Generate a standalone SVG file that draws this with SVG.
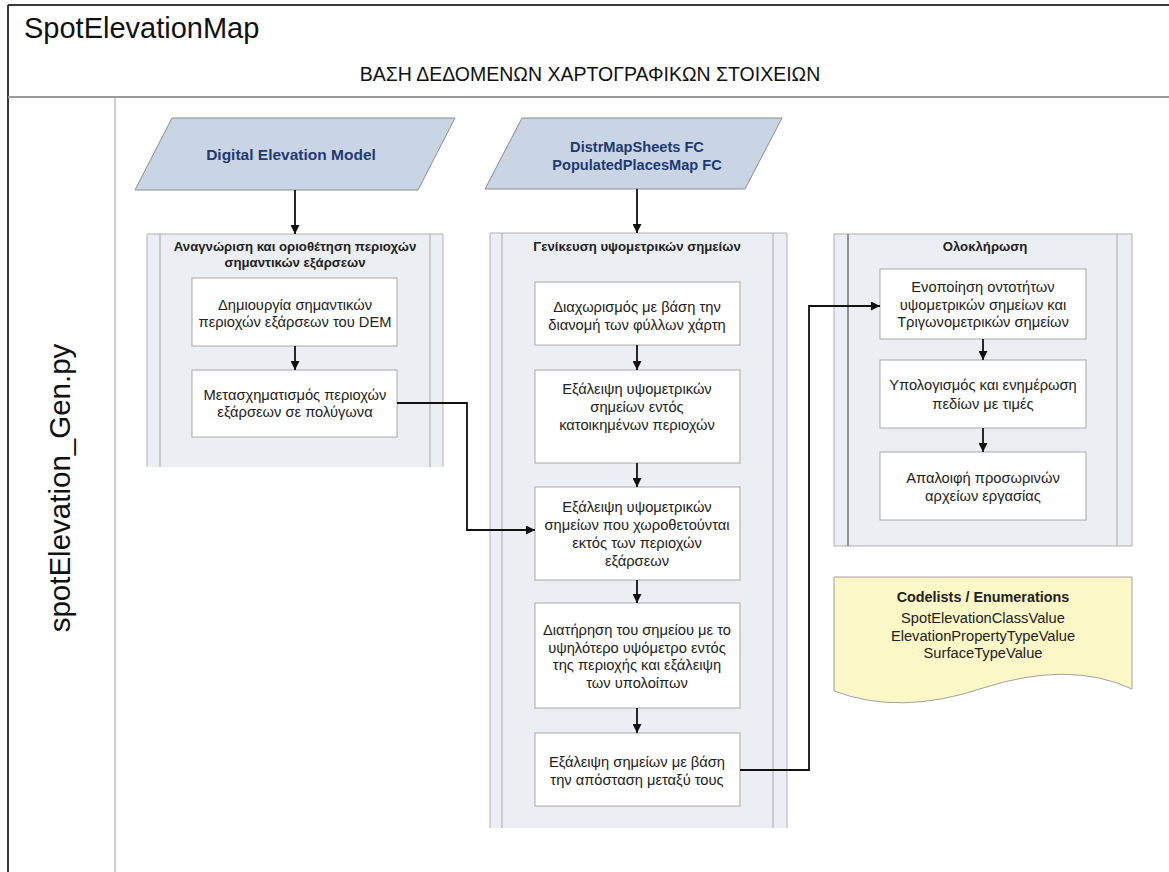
<svg xmlns="http://www.w3.org/2000/svg" width="1169" height="872" viewBox="0 0 1169 872">
  <style>
    text { font-family: "Liberation Sans", Arial, sans-serif; fill: #222; text-anchor: middle; }
    .frame { fill: none; stroke: #3a3a3a; stroke-width: 2; }
    .sep { stroke: #9a9a9a; stroke-width: 2; }
    .lane { stroke: #d0d0d0; stroke-width: 2; }
    .data { fill: #c9d5e5; stroke: #8c8c8c; stroke-width: 1; }
    .data-t { font-size: 15.5px; font-weight: bold; fill: #1f3a73; }
    .group { fill: #ebeef3; stroke: #b0b0b0; stroke-width: 1; }
    .gline { stroke: #a8a8a8; stroke-width: 1; }
    .gline-dark { stroke: #555; stroke-width: 1.2; }
    .group-t { font-size: 13.2px; font-weight: bold; }
    .step { fill: #ffffff; stroke: #a8a8a8; stroke-width: 1; }
    .step-t { font-size: 14.7px; }
    .doc { fill: #fbf7c6; stroke: #a0a0a0; stroke-width: 1; }
    .conn { fill: none; stroke: #111; stroke-width: 1.8; }
  </style>
  <defs>
    <marker id="arrow" viewBox="0 0 10 10" refX="10" refY="5" markerWidth="9" markerHeight="9" orient="auto" markerUnits="userSpaceOnUse">
      <path d="M0,0 L10,5 L0,10 z" fill="#111"/>
    </marker>
  </defs>

  <!-- page frame -->
  <g id="frame">
    <rect x="0" y="0" width="1169" height="872" fill="#ffffff"/>
    <line class="frame" x1="8" y1="5" x2="1169" y2="5"/>
    <line class="frame" x1="8" y1="5" x2="8" y2="872"/>
    <line class="sep" x1="8" y1="97" x2="1169" y2="97"/>
    <line class="lane" x1="115" y1="98" x2="115" y2="872"/>
    <text x="24" y="38" style="font-size:29px; text-anchor:start; fill:#111">SpotElevationMap</text>
    <text x="590" y="81" style="font-size:19.5px; fill:#111">ΒΑΣΗ ΔΕΔΟΜΕΝΩΝ ΧΑΡΤΟΓΡΑΦΙΚΩΝ ΣΤΟΙΧΕΙΩΝ</text>
    <text transform="translate(70,488) rotate(-90)" style="font-size:29.5px; fill:#111">spotElevation_Gen.py</text>
  </g>

  <!-- input data -->
  <g id="dem">
    <polygon class="data" points="172,118 455,118 418,190 135,190"/>
    <text class="data-t" x="291" y="160">Digital Elevation Model</text>
  </g>
  <g id="sheets">
    <polygon class="data" points="522,118 782,118 745,189 485,189"/>
    <text class="data-t" x="637" y="152" style="font-size:14.6px">DistrMapSheets FC</text>
    <text class="data-t" x="637" y="170" style="font-size:14.6px">PopulatedPlacesMap FC</text>
  </g>

  <!-- group 1 -->
  <g id="group-peaks">
    <path class="group" d="M147,467 V234 H443 V467 Z" style="stroke:none"/>
    <path d="M147,467 V234 H443 V467" fill="none" stroke="#b0b0b0"/>
    <line class="gline" x1="160" y1="234" x2="160" y2="467"/>
    <line class="gline" x1="430" y1="234" x2="430" y2="467"/>
    <text class="group-t" x="295" y="251">Αναγνώριση και οριοθέτηση περιοχών</text>
    <text class="group-t" x="295" y="267">σημαντικών εξάρσεων</text>
  </g>
  <g id="step-1a">
    <rect class="step" x="192" y="278" width="205" height="68"/>
    <text class="step-t" x="295" y="310">Δημιουργία σημαντικών</text>
    <text class="step-t" x="295" y="327">περιοχών εξάρσεων του DEM</text>
  </g>
  <g id="step-1b">
    <rect class="step" x="192" y="370" width="205" height="67"/>
    <text class="step-t" x="295" y="400">Μετασχηματισμός περιοχών</text>
    <text class="step-t" x="295" y="417">εξάρσεων σε πολύγωνα</text>
  </g>

  <!-- group 2 -->
  <g id="group-generalise">
    <path class="group" d="M490,828 V233 H787 V828 Z" style="stroke:none"/>
    <path d="M490,828 V233 H787 V828" fill="none" stroke="#b0b0b0"/>
    <line class="gline" x1="502" y1="233" x2="502" y2="828"/>
    <line class="gline" x1="773" y1="233" x2="773" y2="828"/>
    <text class="group-t" x="637" y="251">Γενίκευση υψομετρικών σημείων</text>
  </g>
  <g id="step-2a">
    <rect class="step" x="535" y="282" width="205" height="63"/>
    <text class="step-t" x="637" y="312">Διαχωρισμός με βάση την</text>
    <text class="step-t" x="637" y="330">διανομή των φύλλων χάρτη</text>
  </g>
  <g id="step-2b">
    <rect class="step" x="535" y="370" width="205" height="93"/>
    <text class="step-t" x="637" y="394">Εξάλειψη υψομετρικών</text>
    <text class="step-t" x="637" y="412">σημείων εντός</text>
    <text class="step-t" x="637" y="430">κατοικημένων περιοχών</text>
  </g>
  <g id="step-2c">
    <rect class="step" x="535" y="487" width="205" height="93"/>
    <text class="step-t" x="637" y="512">Εξάλειψη υψομετρικών</text>
    <text class="step-t" x="637" y="530">σημείων που χωροθετούνται</text>
    <text class="step-t" x="637" y="548">εκτός των περιοχών</text>
    <text class="step-t" x="637" y="566">εξάρσεων</text>
  </g>
  <g id="step-2d">
    <rect class="step" x="535" y="603" width="205" height="105"/>
    <text class="step-t" x="637" y="635">Διατήρηση του σημείου με το</text>
    <text class="step-t" x="637" y="653">υψηλότερο υψόμετρο εντός</text>
    <text class="step-t" x="637" y="670">της περιοχής και εξάλειψη</text>
    <text class="step-t" x="637" y="688">των υπολοίπων</text>
  </g>
  <g id="step-2e">
    <rect class="step" x="535" y="733" width="205" height="73"/>
    <text class="step-t" x="637" y="767">Εξάλειψη σημείων με βάση</text>
    <text class="step-t" x="637" y="785">την απόσταση μεταξύ τους</text>
  </g>

  <!-- group 3 -->
  <g id="group-finish">
    <rect class="group" x="834" y="234" width="298" height="312"/>
    <line class="gline-dark" x1="848" y1="234" x2="848" y2="546"/>
    <line class="gline" x1="1117" y1="234" x2="1117" y2="546"/>
    <text class="group-t" x="985" y="251">Ολοκλήρωση</text>
  </g>
  <g id="step-3a">
    <rect class="step" x="880" y="269" width="206" height="70"/>
    <text class="step-t" x="983" y="292">Ενοποίηση οντοτήτων</text>
    <text class="step-t" x="983" y="310">υψομετρικών σημείων και</text>
    <text class="step-t" x="983" y="327">Τριγωνομετρικών σημείων</text>
  </g>
  <g id="step-3b">
    <rect class="step" x="880" y="360" width="206" height="68"/>
    <text class="step-t" x="983" y="390">Υπολογισμός και ενημέρωση</text>
    <text class="step-t" x="983" y="409">πεδίων με τιμές</text>
  </g>
  <g id="step-3c">
    <rect class="step" x="880" y="452" width="206" height="68"/>
    <text class="step-t" x="983" y="483">Απαλοιφή προσωρινών</text>
    <text class="step-t" x="983" y="501">αρχείων εργασίας</text>
  </g>

  <!-- code lists -->
  <g id="codelists">
    <path class="doc" d="M834,577 H1132 V689 Q1070,660 983,688 Q900,716 834,691 Z"/>
    <text x="983" y="602" style="font-size:14.4px; font-weight:bold">Codelists / Enumerations</text>
    <text class="step-t" x="983" y="623">SpotElevationClassValue</text>
    <text class="step-t" x="983" y="641">ElevationPropertyTypeValue</text>
    <text class="step-t" x="983" y="658">SurfaceTypeValue</text>
  </g>

  <!-- connectors -->
  <g id="connectors">
    <path class="conn" d="M295,190 V234" marker-end="url(#arrow)"/>
    <path class="conn" d="M637,189 V233" marker-end="url(#arrow)"/>
    <path class="conn" d="M295,346 V370" marker-end="url(#arrow)"/>
    <path class="conn" d="M397,403 H467 V530 H535" marker-end="url(#arrow)"/>
    <path class="conn" d="M637,345 V370" marker-end="url(#arrow)"/>
    <path class="conn" d="M637,463 V487" marker-end="url(#arrow)"/>
    <path class="conn" d="M637,580 V603" marker-end="url(#arrow)"/>
    <path class="conn" d="M637,708 V733" marker-end="url(#arrow)"/>
    <path class="conn" d="M740,770 H809 V306 H880" marker-end="url(#arrow)"/>
    <path class="conn" d="M983,339 V360" marker-end="url(#arrow)"/>
    <path class="conn" d="M983,428 V452" marker-end="url(#arrow)"/>
  </g>
</svg>
